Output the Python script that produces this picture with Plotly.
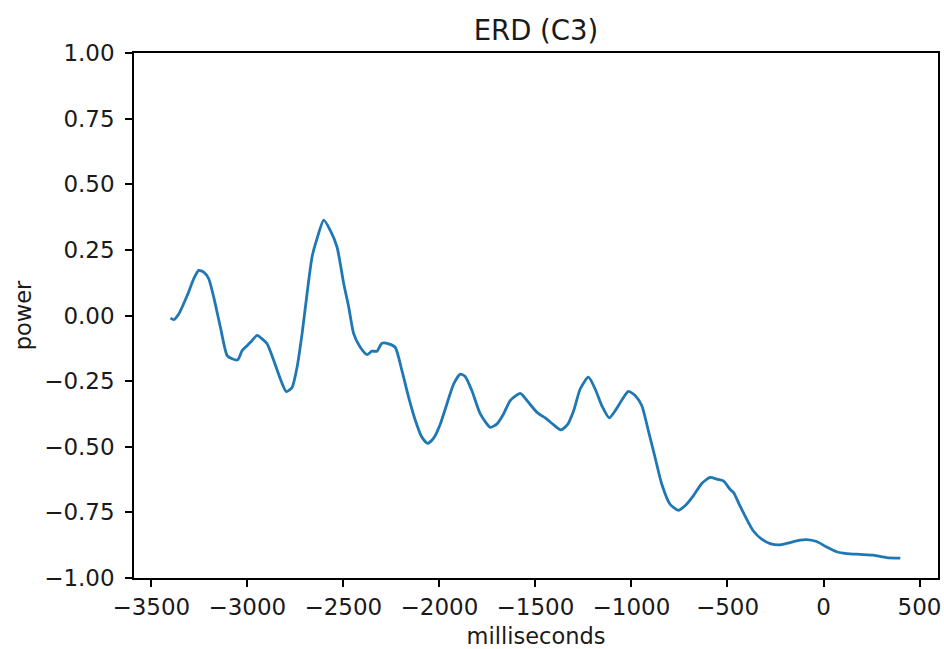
import plotly.graph_objects as go

time_ms = [-3400, -3383, -3357, -3313, -3279, -3253, -3227, -3201, -3175, -3140,
           -3105, -3079, -3050, -3027, -3001, -2975, -2949, -2923, -2897, -2862,
           -2828, -2797, -2767, -2741, -2715, -2689, -2663, -2637, -2602, -2568,
           -2533, -2498, -2472, -2446, -2412, -2377, -2351, -2325, -2299, -2264,
           -2230, -2195, -2160, -2125, -2091, -2061, -2030, -1995, -1961, -1926,
           -1891, -1865, -1831, -1787, -1735, -1700, -1666, -1631, -1579, -1544,
           -1492, -1449, -1406, -1367, -1333, -1301, -1267, -1224, -1189, -1154,
           -1116, -1085, -1050, -1016, -981, -946, -912, -877, -842, -799,
           -756, -721, -678, -634, -591, -556, -521, -487, -469, -435,
           -400, -365, -322, -278, -226, -174, -122, -88, -36, 16,
           68, 120, 190, 259, 329, 400]
power = [-0.010, -0.016, 0.006, 0.076, 0.140, 0.172, 0.165, 0.140, 0.070, -0.045,
         -0.153, -0.165, -0.169, -0.134, -0.115, -0.095, -0.076, -0.089, -0.108, -0.172,
         -0.242, -0.290, -0.274, -0.197, -0.070, 0.083, 0.223, 0.293, 0.363, 0.324,
         0.261, 0.121, 0.032, -0.070, -0.121, -0.149, -0.136, -0.136, -0.106, -0.108,
         -0.121, -0.210, -0.312, -0.400, -0.464, -0.487, -0.467, -0.413, -0.337, -0.261,
         -0.223, -0.233, -0.286, -0.375, -0.426, -0.413, -0.375, -0.324, -0.297, -0.324,
         -0.369, -0.390, -0.416, -0.436, -0.416, -0.363, -0.280, -0.235, -0.280, -0.344,
         -0.390, -0.363, -0.322, -0.289, -0.305, -0.344, -0.439, -0.541, -0.643, -0.719,
         -0.742, -0.725, -0.687, -0.640, -0.617, -0.623, -0.630, -0.662, -0.674, -0.725,
         -0.776, -0.821, -0.852, -0.869, -0.874, -0.865, -0.856, -0.854, -0.861, -0.882,
         -0.900, -0.907, -0.910, -0.913, -0.922, -0.924]

x_ticks = [-3500, -3000, -2500, -2000, -1500, -1000, -500, 0, 500]
y_ticks = [-1.0, -0.75, -0.5, -0.25, 0.0, 0.25, 0.5, 0.75, 1.0]

FONT = "DejaVu Sans"
TXT = "#1a1a1a"

fig = go.Figure()
fig.add_trace(go.Scatter(
    x=time_ms, y=power, mode="lines",
    line=dict(color="#1f77b4", width=2.8, shape="spline", smoothing=0.6),
    showlegend=False,
))

fig.update_layout(
    width=944, height=649,
    margin=dict(l=134, r=6, t=53, b=71, autoexpand=False),
    paper_bgcolor="white", plot_bgcolor="white",
    font=dict(family=FONT, color=TXT, size=23),
    title=dict(text="ERD (C3)", x=0.5, xref="paper", xanchor="center",
               y=1, yref="paper", yanchor="bottom", pad=dict(b=13),
               font=dict(family=FONT, size=27.5, color=TXT), automargin=False),
)
fig.update_xaxes(
    range=[-3590, 596], tickvals=x_ticks, ticks="outside", ticklen=7, tickwidth=1.5,
    tickcolor="black", showline=True, linecolor="black", linewidth=1.5, mirror=True,
    showgrid=False, zeroline=False, tickfont=dict(size=23), ticklabelstandoff=1,
    automargin=False,
    title=dict(text="milliseconds", font=dict(size=22.5), standoff=12),
)
fig.update_yaxes(
    range=[-1, 1], tickvals=y_ticks, tickformat=".2f", ticks="outside", ticklen=7,
    tickwidth=1.5, tickcolor="black", showline=True, linecolor="black", linewidth=1.5,
    mirror=True, showgrid=False, zeroline=False, tickfont=dict(size=23),
    ticklabelstandoff=6, automargin=False,
    title=dict(text="power", font=dict(size=22.5), standoff=6),
)

fig.write_html("out.html")
